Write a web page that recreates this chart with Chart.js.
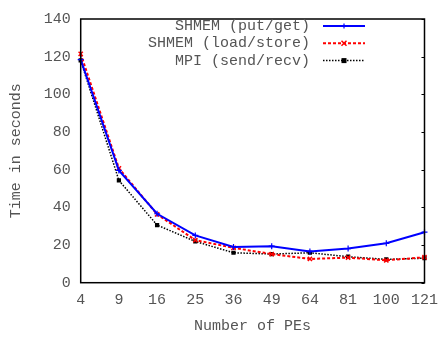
<!DOCTYPE html>
<html>
<head>
<meta charset="utf-8">
<script src="https://cdn.jsdelivr.net/npm/chart.js@4/dist/chart.umd.min.js"></script>
<style>
  html, body { margin: 0; padding: 0; background: #fff; }
  #wrap { width: 446px; height: 337px; position: relative; }
</style>
</head>
<body>
<div id="wrap"><canvas id="c"></canvas></div>
<script>
// PEs on the x axis, run times in seconds
const peLabels = ['4', '9', '16', '25', '36', '49', '64', '81', '100', '121'];
const putGet = [118.4, 59.6, 36.6, 25.1, 19.0, 19.4, 16.6, 18.1, 20.9, 26.8];
const loadStore = [121.5, 60.7, 36.3, 22.6, 18.5, 15.2, 12.6, 13.3, 11.9, 13.5];
const sendRecv = [118.0, 54.3, 30.6, 21.9, 15.9, 15.2, 15.9, 13.8, 12.4, 13.0];
const yTicks = [0, 20, 40, 60, 80, 100, 120, 140];

const FONT = 'Liberation Mono, DejaVu Sans Mono, monospace';
const TXT = '#555';

// box + mirrored tick marks on the right edge
const frame = {
  id: 'frame',
  afterDatasetsDraw(chart) {
    const { ctx, chartArea: a, scales } = chart;
    ctx.save();
    ctx.strokeStyle = '#000';
    ctx.lineWidth = 1;
    yTicks.forEach((v) => {
      const y = Math.round(scales.y.getPixelForValue(v)) + 0.5;
      ctx.beginPath();
      ctx.moveTo(a.right - 3, y);
      ctx.lineTo(a.right, y);
      ctx.stroke();
    });
    ctx.lineWidth = 1.5;
    ctx.strokeRect(a.left, a.top, a.right - a.left, a.bottom - a.top);
    ctx.restore();
  },
};

// gnuplot style key: text right aligned, sample to its right
const key = {
  id: 'key',
  afterDraw(chart) {
    const { ctx } = chart;
    ctx.save();
    ctx.font = '15px ' + FONT;
    ctx.textAlign = 'right';
    ctx.textBaseline = 'middle';
    chart.data.datasets.forEach((ds, i) => {
      const y = 26 + i * 17.3;
      ctx.fillStyle = TXT;
      ctx.fillText(ds.label, 310, y);
      const x0 = 323, x1 = 365, xm = (x0 + x1) / 2;
      ctx.strokeStyle = ds.borderColor;
      ctx.lineWidth = ds.borderWidth;
      ctx.setLineDash(ds.borderDash || []);
      ctx.beginPath();
      ctx.moveTo(x0, y);
      ctx.lineTo(x1, y);
      ctx.stroke();
      ctx.setLineDash([]);
      ctx.fillStyle = ds.borderColor;
      if (ds.pointStyle === 'rect') {
        ctx.fillRect(xm - 2.5, y - 2.5, 5, 5);
      } else if (ds.pointStyle === 'crossRot') {
        ctx.lineWidth = 1.5;
        ctx.beginPath();
        ctx.moveTo(xm - 2.5, y - 2.5); ctx.lineTo(xm + 2.5, y + 2.5);
        ctx.moveTo(xm - 2.5, y + 2.5); ctx.lineTo(xm + 2.5, y - 2.5);
        ctx.stroke();
      } else {
        ctx.lineWidth = 1.2;
        ctx.beginPath();
        ctx.moveTo(xm - 2.5, y); ctx.lineTo(xm + 2.5, y);
        ctx.moveTo(xm, y - 2.5); ctx.lineTo(xm, y + 2.5);
        ctx.stroke();
      }
    });
    ctx.restore();
  },
};

new Chart(document.getElementById('c'), {
  type: 'line',
  data: {
    labels: peLabels,
    datasets: [
      { label: 'SHMEM (put/get)', data: putGet, borderColor: '#0000ff', backgroundColor: '#0000ff',
        borderWidth: 2, pointStyle: 'cross', pointRadius: 3, pointBorderWidth: 1.2 },
      { label: 'SHMEM (load/store)', data: loadStore, borderColor: '#ff0000', backgroundColor: '#ff0000',
        borderWidth: 2, borderDash: [3, 2], pointStyle: 'crossRot', pointRadius: 3, pointBorderWidth: 1.5 },
      { label: 'MPI (send/recv)', data: sendRecv, borderColor: '#000000', backgroundColor: '#000000',
        borderWidth: 1.5, borderDash: [1.5, 1.5], pointStyle: 'rect', pointRadius: 3, pointBorderWidth: 0 },
    ],
  },
  options: {
    responsive: true,
    maintainAspectRatio: false,
    animation: false,
    layout: { padding: { left: 0, right: 12, top: 12.7, bottom: 0 } },
    plugins: { legend: { display: false }, tooltip: { enabled: false } },
    elements: { line: { tension: 0 } },
    scales: {
      x: {
        type: 'category',
        offset: false,
        grid: { display: false, drawTicks: false },
        border: { display: false },
        ticks: { color: TXT, font: { family: FONT, size: 15 }, padding: 8, maxRotation: 0, autoSkip: false },
        title: { display: true, text: 'Number of PEs', color: TXT, font: { family: FONT, size: 15 }, padding: { top: 0, bottom: 2 } },
        afterFit(s) { s.height = 54.3; },
      },
      y: {
        min: 0,
        max: 140,
        grid: { display: false, drawTicks: false },
        border: { display: false },
        afterBuildTicks(s) { s.ticks = yTicks.map((v) => ({ value: v })); },
        ticks: { color: TXT, font: { family: FONT, size: 15 }, padding: 10 },
        title: { display: true, text: 'Time in seconds', color: TXT, font: { family: FONT, size: 15 }, padding: { top: 7, bottom: 0 } },
        afterFit(s) { s.width = 80.7; },
      },
    },
  },
  plugins: [frame, key],
});
</script>
</body>
</html>
